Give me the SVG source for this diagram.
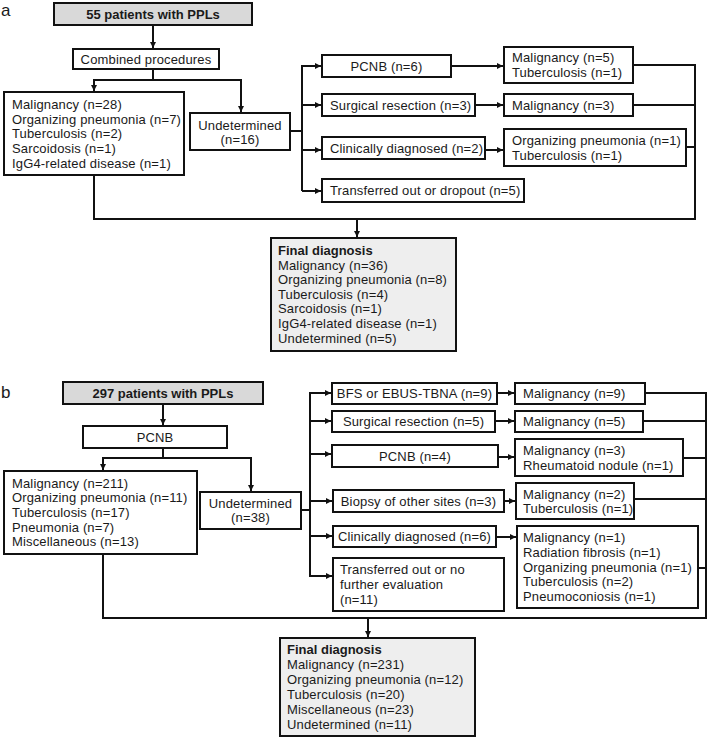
<svg xmlns="http://www.w3.org/2000/svg" width="709" height="740" viewBox="0 0 709 740">
<defs>
<marker id="ah" markerUnits="userSpaceOnUse" markerWidth="7" markerHeight="7" refX="6" refY="3" orient="auto">
<path d="M0,0 L6,3 L0,6 z" fill="#111"/>
</marker>
<style>
.box{fill:#fff;stroke:#111;stroke-width:2}
.top{fill:#d9d9d9;stroke:#111;stroke-width:2}
.fin{fill:#eeeeee;stroke:#111;stroke-width:2}
text{font-family:"Liberation Sans",Arial,sans-serif;font-size:13px;letter-spacing:0.15px;fill:#1a1a1a}
.b{font-weight:bold;letter-spacing:0}
.c{text-anchor:middle}
.lab{font-family:"Liberation Sans",Arial,sans-serif;font-size:17px;letter-spacing:0}
.ln{fill:none;stroke:#111;stroke-width:2}
.ar{fill:none;stroke:#111;stroke-width:2;marker-end:url(#ah)}
</style>
</defs>
<rect width="709" height="740" fill="#fff"/>
<text class="lab" x="1" y="16">a</text>
<text class="lab" x="1" y="398">b</text>

<g id="connectors">
<!-- panel a -->
<path class="ar" d="M153,25 V48"/>
<path class="ln" d="M153,69 V80"/>
<path class="ar" d="M153,80 H94 V91"/>
<path class="ar" d="M153,80 H241 V112"/>
<path class="ln" d="M290,131 H302"/>
<path class="ln" d="M302,65 V191"/>
<path class="ar" d="M302,66 H321"/>
<path class="ar" d="M302,105 H321"/>
<path class="ar" d="M302,150 H321"/>
<path class="ar" d="M302,191 H321"/>
<path class="ar" d="M451,66 H503"/>
<path class="ar" d="M475,105 H503"/>
<path class="ar" d="M485,150 H503"/>
<path class="ln" d="M633,65 H695 M633,105 H695 M686,147 H695 M695,64 V219"/>
<path class="ln" d="M94,175 V219 H696"/>
<path class="ar" d="M357,219 V237"/>
<!-- panel b -->
<path class="ar" d="M163,404 V425"/>
<path class="ln" d="M163,448 V458"/>
<path class="ar" d="M163,458 H103 V470"/>
<path class="ar" d="M163,458 H251 V491"/>
<path class="ln" d="M301,510 H310"/>
<path class="ln" d="M310,392 V577"/>
<path class="ar" d="M310,393 H331"/>
<path class="ar" d="M310,421 H331"/>
<path class="ar" d="M310,454 H331"/>
<path class="ar" d="M310,501 H332"/>
<path class="ar" d="M310,536 H332"/>
<path class="ar" d="M310,576 H332"/>
<path class="ar" d="M497,393 H514"/>
<path class="ar" d="M495,421 H514"/>
<path class="ar" d="M498,457 H514"/>
<path class="ar" d="M504,501 H515"/>
<path class="ar" d="M496,537 H516"/>
<path class="ln" d="M645,393 H706 M643,421 H706 M683,458 H706 M634,499 H706 M698,568 H706 M706,392 V618"/>
<path class="ln" d="M103,554 V618 H707"/>
<path class="ar" d="M368,618 V637"/>
</g>

<!-- panel a nodes -->
<g id="a_top"><rect class="top" x="54" y="3" width="198" height="22"/><text class="b c" x="153" y="18.5">55 patients with PPLs</text></g>
<g id="a_combined"><rect class="box" x="73" y="49" width="146" height="20"/><text class="c" x="146" y="63.5">Combined procedures</text></g>
<g id="a_diag"><rect class="box" x="4" y="92" width="180" height="83"/>
<text x="12" y="109">Malignancy (n=28)</text>
<text x="12" y="123.7">Organizing pneumonia (n=7)</text>
<text x="12" y="138.4">Tuberculosis (n=2)</text>
<text x="12" y="153.1">Sarcoidosis (n=1)</text>
<text x="12" y="167.8">IgG4-related disease (n=1)</text></g>
<g id="a_undet"><rect class="box" x="190" y="113" width="100" height="37"/><text class="c" x="240" y="129.5">Undetermined</text><text class="c" x="240" y="144">(n=16)</text></g>
<g id="a_pcnb"><rect class="box" x="322" y="55" width="129" height="22"/><text class="c" x="386.5" y="70.5">PCNB (n=6)</text></g>
<g id="a_surg"><rect class="box" x="322" y="94" width="153" height="22"/><text x="330" y="109.5">Surgical resection (n=3)</text></g>
<g id="a_clin"><rect class="box" x="322" y="137" width="163" height="22"/><text x="330" y="152.5">Clinically diagnosed (n=2)</text></g>
<g id="a_trans"><rect class="box" x="322" y="179" width="202" height="23"/><text x="330" y="195">Transferred out or dropout (n=5)</text></g>
<g id="a_r1"><rect class="box" x="504" y="47" width="129" height="36"/><text x="512" y="62">Malignancy (n=5)</text><text x="512" y="77">Tuberculosis (n=1)</text></g>
<g id="a_r2"><rect class="box" x="504" y="94" width="129" height="22"/><text x="512" y="109.5">Malignancy (n=3)</text></g>
<g id="a_r3"><rect class="box" x="504" y="129" width="182" height="37"/><text x="512" y="145">Organizing pneumonia (n=1)</text><text x="512" y="160">Tuberculosis (n=1)</text></g>
<g id="a_final"><rect class="fin" x="271" y="238" width="185" height="113"/>
<text class="b" x="278" y="255">Final diagnosis</text>
<text x="278" y="269.6">Malignancy (n=36)</text>
<text x="278" y="284.2">Organizing pneumonia (n=8)</text>
<text x="278" y="298.8">Tuberculosis (n=4)</text>
<text x="278" y="313.4">Sarcoidosis (n=1)</text>
<text x="278" y="328">IgG4-related disease (n=1)</text>
<text x="278" y="342.6">Undetermined (n=5)</text></g>

<!-- panel b nodes -->
<g id="b_top"><rect class="top" x="63" y="382" width="200" height="22"/><text class="b c" x="163" y="397.5">297 patients with PPLs</text></g>
<g id="b_pcnb"><rect class="box" x="83" y="426" width="144" height="22"/><text class="c" x="155" y="441.5">PCNB</text></g>
<g id="b_diag"><rect class="box" x="4" y="471" width="193" height="83"/>
<text x="12" y="487.5">Malignancy (n=211)</text>
<text x="12" y="502.2">Organizing pneumonia (n=11)</text>
<text x="12" y="516.9">Tuberculosis (n=17)</text>
<text x="12" y="531.6">Pneumonia (n=7)</text>
<text x="12" y="546.3">Miscellaneous (n=13)</text></g>
<g id="b_undet"><rect class="box" x="200" y="492" width="101" height="37"/><text class="c" x="250.5" y="507.5">Undetermined</text><text class="c" x="250.5" y="522">(n=38)</text></g>
<g id="b_bfs"><rect class="box" x="332" y="383" width="165" height="21"/><text class="c" x="414.5" y="398">BFS or EBUS-TBNA (n=9)</text></g>
<g id="b_surg"><rect class="box" x="332" y="411" width="163" height="21"/><text class="c" x="413.5" y="426">Surgical resection (n=5)</text></g>
<g id="b_pcnb4"><rect class="box" x="332" y="445" width="166" height="22"/><text class="c" x="415" y="461">PCNB (n=4)</text></g>
<g id="b_biop"><rect class="box" x="333" y="490" width="171" height="22"/><text class="c" x="418.5" y="505.5">Biopsy of other sites (n=3)</text></g>
<g id="b_clin"><rect class="box" x="333" y="526" width="163" height="21"/><text class="c" x="414.5" y="541">Clinically diagnosed (n=6)</text></g>
<g id="b_trans"><rect class="box" x="333" y="558" width="171" height="53"/><text x="340" y="574">Transferred out or no</text><text x="340" y="589">further evaluation</text><text x="340" y="604">(n=11)</text></g>
<g id="b_r1"><rect class="box" x="515" y="383" width="130" height="21"/><text x="523" y="398">Malignancy (n=9)</text></g>
<g id="b_r2"><rect class="box" x="515" y="411" width="128" height="21"/><text x="523" y="426">Malignancy (n=5)</text></g>
<g id="b_r3"><rect class="box" x="515" y="439" width="168" height="37"/><text x="523" y="454.5">Malignancy (n=3)</text><text x="523" y="469.5">Rheumatoid nodule (n=1)</text></g>
<g id="b_r4"><rect class="box" x="516" y="483" width="118" height="36"/><text x="523" y="498.5">Malignancy (n=2)</text><text x="523" y="513">Tuberculosis (n=1)</text></g>
<g id="b_r5"><rect class="box" x="517" y="526" width="181" height="82"/>
<text x="523" y="542">Malignancy (n=1)</text>
<text x="523" y="556.8">Radiation fibrosis (n=1)</text>
<text x="523" y="571.6">Organizing pneumonia (n=1)</text>
<text x="523" y="586.4">Tuberculosis (n=2)</text>
<text x="523" y="601.2">Pneumoconiosis (n=1)</text></g>
<g id="b_final"><rect class="fin" x="280" y="638" width="195" height="98"/>
<text class="b" x="287" y="654">Final diagnosis</text>
<text x="287" y="669">Malignancy (n=231)</text>
<text x="287" y="684">Organizing pneumonia (n=12)</text>
<text x="287" y="699">Tuberculosis (n=20)</text>
<text x="287" y="714">Miscellaneous (n=23)</text>
<text x="287" y="729">Undetermined (n=11)</text></g>
</svg>
